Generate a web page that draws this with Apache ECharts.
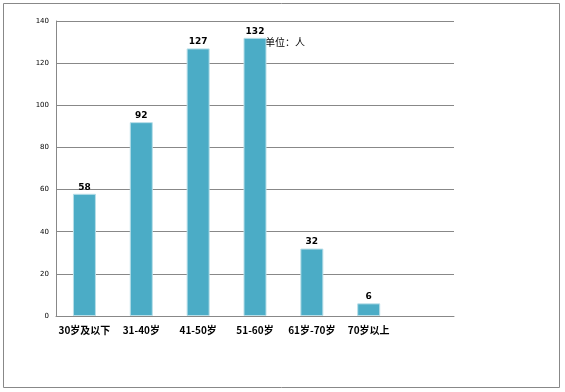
<!DOCTYPE html>
<html><head><meta charset="utf-8">
<script src="https://cdn.jsdelivr.net/npm/echarts@6/dist/echarts.min.js"></script>
<style>html,body{margin:0;padding:0;background:#fff}#c{width:565px;height:392px}</style>
</head><body><div id="c"></div>
<script>
const categories = ['30岁及以下', '31-40岁', '41-50岁', '51-60岁', '61岁-70岁', '70岁以上', ''];
const values = [58, 92, 127, 132, 32, 6, null];
const yTicks = { min: 0, max: 140, interval: 20 };
const unitText = '单位：人';

const chart = echarts.init(document.getElementById('c'));
chart.setOption({
  animation: false,
  backgroundColor: '#fff',
  grid: { left: 56, right: 111, top: 21, bottom: 76 },
  xAxis: {
    type: 'category', data: categories,
    axisLine: { show: true, lineStyle: { color: '#888', width: 1 } },
    axisTick: { show: false },
    axisLabel: { color: '#000', fontWeight: 'bold', fontSize: 10, margin: 9, interval: 0,
      fontFamily: '"Noto Sans CJK SC", sans-serif' }
  },
  yAxis: {
    type: 'value', min: yTicks.min, max: yTicks.max, interval: yTicks.interval,
    axisLine: { show: true, lineStyle: { color: '#888', width: 1 } },
    axisTick: { show: false },
    splitLine: { lineStyle: { color: '#888', width: 1 } },
    axisLabel: { color: '#000', fontSize: 7, margin: 7, fontFamily: 'DejaVu Sans' }
  },
  series: [{
    type: 'bar', data: values, barWidth: 23,
    itemStyle: { color: '#4BACC6', borderColor: '#B7DEE8', borderWidth: 1 },
    label: { show: true, position: 'top', distance: 2, color: '#000', fontWeight: 'bold', fontSize: 9,
      fontFamily: 'DejaVu Sans' }
  }],
  graphic: [
    { type: 'rect', shape: { x: 3.5, y: 3.5, width: 556, height: 384 },
      style: { fill: 'none', stroke: '#888', lineWidth: 1 } },
    { type: 'text', left: 265, top: 37,
      style: { text: unitText, fill: '#000', fontSize: 10, fontFamily: '"Noto Sans CJK SC", sans-serif' } }
  ]
});
</script></body></html>
